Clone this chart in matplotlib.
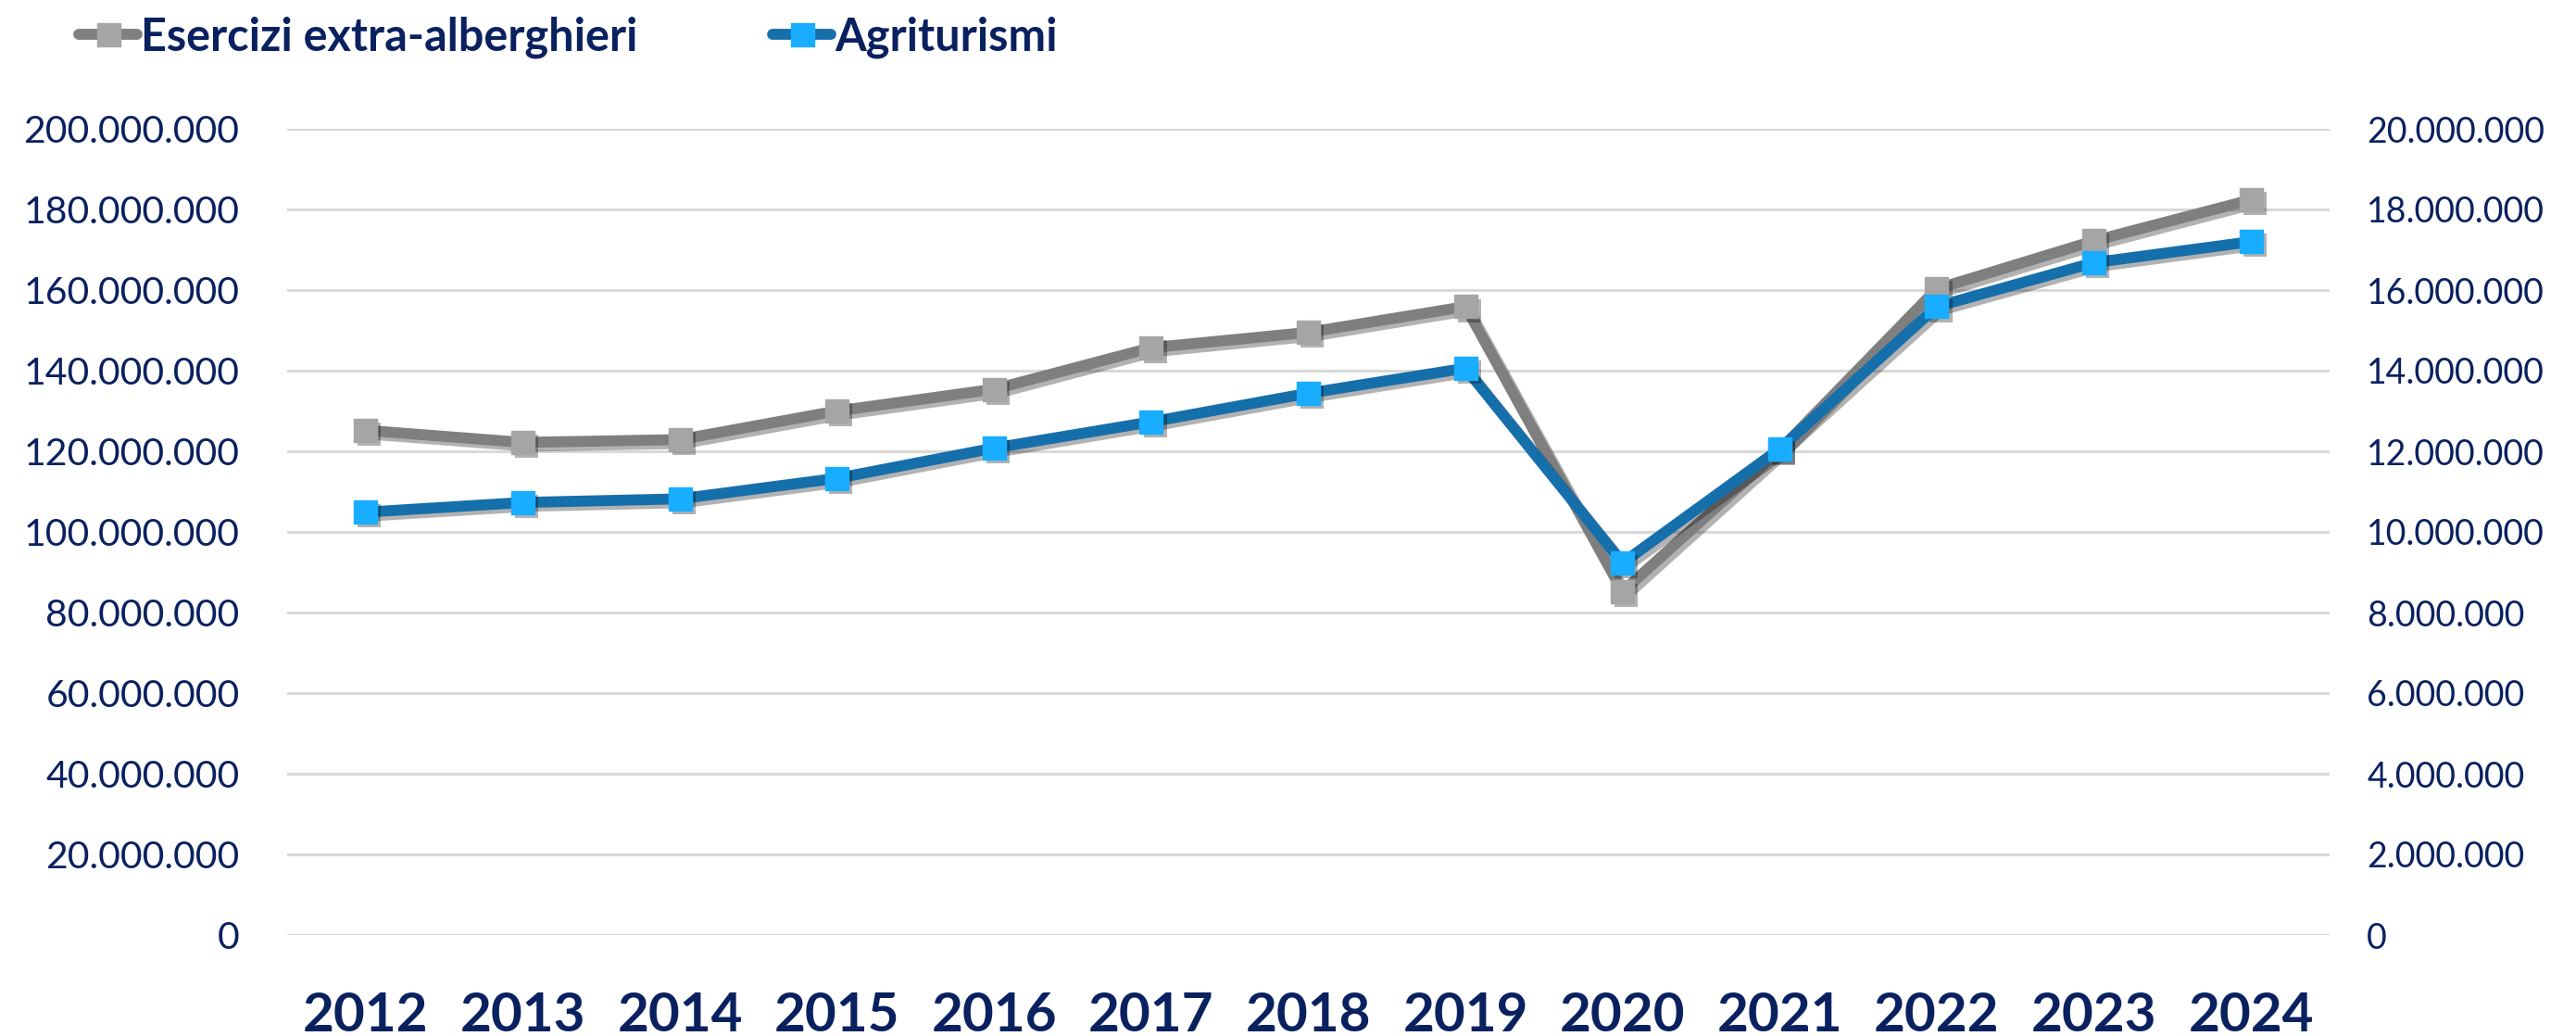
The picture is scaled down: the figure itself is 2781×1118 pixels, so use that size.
import matplotlib
matplotlib.use('Agg')
import matplotlib.pyplot as plt
import matplotlib.patheffects as pe
from matplotlib.lines import Line2D
from matplotlib.ticker import FuncFormatter, MultipleLocator

plt.rcParams['font.family'] = ['Lato', 'DejaVu Sans']

# dati
anni = ['2012', '2013', '2014', '2015', '2016', '2017', '2018',
        '2019', '2020', '2021', '2022', '2023', '2024']
extra_alberghieri = [125.2e6, 122.2e6, 122.9e6, 130.0e6, 135.4e6, 145.7e6, 149.5e6,
                     155.9e6, 85.2e6, 120.3e6, 160.3e6, 172.2e6, 182.4e6]
agriturismi = [10.49e6, 10.73e6, 10.82e6, 11.33e6, 12.08e6, 12.73e6, 13.44e6,
               14.06e6, 9.23e6, 12.06e6, 15.59e6, 16.68e6, 17.20e6]
nomi = ['Esercizi extra-alberghieri', 'Agriturismi']

navy = '#0a2160'
grigio_linea, grigio_marker = '#7f7f7f', '#a5a5a5'
blu_linea, blu_marker = '#156fab', '#19adff'

W, H = 2781, 1118
fig = plt.figure(figsize=(W / 100, H / 100), dpi=100)
ax = fig.add_axes([310 / W, (H - 1009) / H, 2205 / W, 870 / H])
ax2 = ax.twinx()

x = list(range(len(anni)))


def fmt(v, pos):
    return f'{int(round(v)):,}'.replace(',', '.')


def disegna(a, y, c_linea, c_marker):
    a.plot(x, y, color=c_linea, lw=8.5, solid_joinstyle='miter', zorder=3,
           path_effects=[pe.SimpleLineShadow(offset=(3, -3), shadow_color='k', alpha=0.3),
                         pe.Normal()])
    a.plot(x, y, ls='none', marker='s', ms=18, mfc=c_marker, mec=c_marker, zorder=4,
           path_effects=[pe.SimplePatchShadow(offset=(3, -3), shadow_rgbFace='k', alpha=0.3),
                         pe.Normal()])


disegna(ax, extra_alberghieri, grigio_linea, grigio_marker)
disegna(ax2, agriturismi, blu_linea, blu_marker)

ax.set_xlim(-0.5, len(anni) - 0.5)
ax.set_ylim(0, 200e6)
ax2.set_ylim(0, 20e6)
ax.yaxis.set_major_locator(MultipleLocator(20e6))
ax2.yaxis.set_major_locator(MultipleLocator(2e6))
ax.yaxis.set_major_formatter(FuncFormatter(fmt))
ax2.yaxis.set_major_formatter(FuncFormatter(fmt))

ax.grid(axis='y', color='#d9d9d9', lw=2.2)
ax.set_axisbelow(True)
for a in (ax, ax2):
    for s in a.spines.values():
        s.set_visible(False)

ax.set_xticks(x)
ax.set_xticklabels(anni, fontsize=42, fontweight='bold', color=navy)
ax.tick_params(axis='x', length=0, pad=44)
ax.tick_params(axis='y', length=0, pad=37, labelsize=29.5, labelcolor=navy)
ax2.tick_params(axis='y', length=0, pad=29, labelsize=27, labelcolor=navy)

handles = [
    Line2D([], [], color=grigio_linea, lw=8.5, solid_capstyle='round',
           marker='s', ms=18, mfc=grigio_marker, mec=grigio_marker),
    Line2D([], [], color=blu_linea, lw=8.5, solid_capstyle='round',
           marker='s', ms=18, mfc=blu_marker, mec=blu_marker),
]
leg = fig.legend(handles, nomi, loc='center left', bbox_to_anchor=(85 / W, 1 - 40 / H),
                 ncol=2, frameon=False, borderpad=0, borderaxespad=0,
                 handlelength=1.3, handletextpad=0.08, columnspacing=3.0,
                 prop={'size': 35, 'weight': 'bold'})
for t in leg.get_texts():
    t.set_color(navy)

fig.savefig('out.png', dpi=100, facecolor='white')
